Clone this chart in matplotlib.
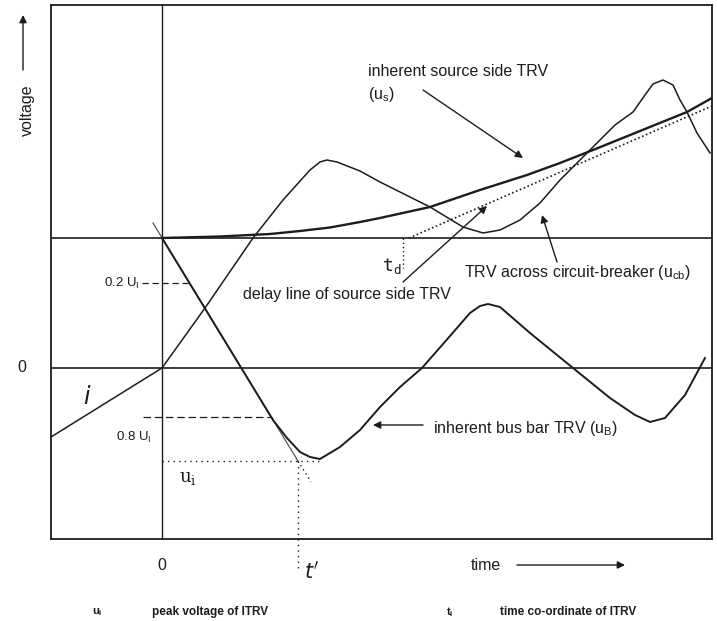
import matplotlib.pyplot as plt

plt.rcParams['font.family'] = ['Liberation Sans', 'DejaVu Sans']
plt.rcParams['mathtext.default'] = 'regular'

# Readings from the sketch (time and voltage in arbitrary units)
current_t = [-11.1, 0]
current_v = [-6.9, 0]

source_t = [0, 5.8, 10.8, 13.8, 16.8, 19.8, 21.8, 26.8, 31.8, 36.5, 39.8, 43.1, 47.8, 52.5, 55.0]
source_v = [13.0, 13.15, 13.4, 13.7, 14.05, 14.6, 15.0, 16.1, 17.8, 19.3, 20.5, 21.8, 23.7, 25.6, 27.0]

delay_t = [24.7, 55.0]
delay_v = [13.0, 26.2]

cb_t = [0, 4.3, 9.1, 12.1, 14.8, 15.8, 16.5, 17.5, 19.8, 21.8, 23.8, 26.8, 30.1, 32.1, 33.8, 35.8,
        37.8, 39.8, 42.8, 45.3, 47.1, 48.3, 49.1, 50.1, 51.1, 51.8, 52.5, 53.5, 54.8]
cb_v = [0, 6.0, 13.0, 16.8, 19.8, 20.6, 20.8, 20.6, 19.7, 18.6, 17.6, 16.1, 14.1, 13.5, 13.8, 14.8,
        16.5, 18.8, 21.8, 24.3, 25.6, 27.3, 28.4, 28.8, 28.3, 26.8, 25.6, 23.5, 21.5]

bus_t = [0, 11.1, 12.5, 13.8, 14.8, 15.8, 17.8, 19.8, 21.8, 23.8, 26.0, 28.8, 30.8, 31.8, 32.6,
         33.8, 36.8, 41.1, 44.8, 47.3, 48.8, 50.3, 52.3, 54.3]
bus_v = [13.0, -5.2, -7.0, -8.4, -8.9, -9.1, -7.9, -6.2, -3.9, -1.9, 0, 3.2, 5.5, 6.2, 6.4,
         6.1, 3.5, 0, -3.0, -4.7, -5.4, -5.0, -2.7, 1.0]

tangent_t = [-0.9, 13.6]
tangent_v = [14.5, -9.3]
tangent_ext_t = [13.6, 14.9]
tangent_ext_v = [-9.3, -11.4]

u_start = 13.0      # voltage level where TRV starts
u_peak = -9.3       # ITRV peak u_i
t_peak = 13.6       # ITRV time t'
t_delay = 24.1      # t_d
level_02 = 8.5
level_08 = -4.9

ink = '#1c1c1c'
fs = 11.5

fig = plt.figure(figsize=(7.17, 6.21), dpi=100)
ax = fig.add_axes([51 / 717, 82 / 621, 661 / 717, 534 / 621])
ax.set_xlim(-11.1, 55.0)
ax.set_ylim(-17.1, 36.3)
ax.set_xticks([])
ax.set_yticks([])
for sp in ax.spines.values():
    sp.set_color(ink)
    sp.set_linewidth(1.3)

# reference lines
ax.axhline(0, color=ink, lw=1.2)
ax.axhline(u_start, color=ink, lw=1.2)
ax.axvline(0, color=ink, lw=1.0)

# curves
ax.plot(current_t, current_v, color=ink, lw=1.1)
ax.plot(source_t, source_v, color=ink, lw=1.7)
ax.plot(delay_t, delay_v, color=ink, lw=1.2, linestyle=(0, (1, 1.5)))
ax.plot(cb_t, cb_v, color=ink, lw=1.1)
ax.plot(tangent_t, tangent_v, color='#555555', lw=0.9)
ax.plot(bus_t, bus_v, color=ink, lw=1.4)
ax.plot(tangent_ext_t, tangent_ext_v, color=ink, lw=1.0, linestyle=(0, (1, 2.5)))

# construction lines
ax.plot([0, 15.8], [u_peak, u_peak], color=ink, lw=1.0, linestyle=(0, (1, 3)))
ax.plot([t_peak, t_peak], [u_peak, -20.0], color=ink, lw=1.0, linestyle=(0, (1, 3)), clip_on=False)
ax.plot([t_delay, t_delay], [u_start, 10.0], color=ink, lw=1.0, linestyle=(0, (1, 2)))
ax.plot([-2.0, 2.7], [level_02, level_02], color=ink, lw=0.9, linestyle=(0, (5, 3)))
ax.plot([-1.9, 11.0], [level_08, level_08], color=ink, lw=0.9, linestyle=(0, (6, 3)))

arrow = dict(arrowstyle='-|>', color=ink, lw=1.0, mutation_scale=11, shrinkA=0, shrinkB=0)

# annotations
ax.text(20.6, 29.6, 'inherent source side TRV', fontsize=fs, va='center', color=ink)
ax.text(20.6, 27.4, '(u$_s$)', fontsize=fs, va='center', color=ink)
ax.annotate('', xy=(36.1, 21.0), xytext=(26.1, 27.8), arrowprops=arrow)

ax.text(8.1, 7.4, 'delay line of source side TRV', fontsize=fs, va='center', color=ink)
ax.annotate('', xy=(32.5, 16.2), xytext=(24.1, 8.6), arrowprops=arrow)

ax.text(30.2, 9.6, 'TRV across circuit-breaker (u$_{cb}$)', fontsize=fs, va='center', color=ink)
ax.annotate('', xy=(38.0, 15.3), xytext=(39.5, 10.6), arrowprops=arrow)

ax.text(27.1, -6.0, 'inherent bus bar TRV (u$_B$)', fontsize=fs, va='center', color=ink)
ax.annotate('', xy=(21.1, -5.7), xytext=(26.1, -5.7), arrowprops=arrow)

ax.text(-2.2, level_02, '0.2 U$_I$', fontsize=9.5, ha='right', va='center', color=ink)
ax.text(-1.0, -6.9, '0.8 U$_I$', fontsize=9.5, ha='right', va='center', color=ink)

ax.text(-7.5, -2.9, '$\\mathit{i}$', fontsize=17, ha='center', va='center', color=ink)
ax.text(2.6, -11.0, '$u_i$', fontsize=13, ha='center', va='center', color=ink,
        family='DejaVu Serif')
ax.text(23.0, 10.2, '$t_d$', fontsize=13, ha='center', va='center', color=ink,
        family='DejaVu Sans Mono')

# outside-axes labels
ax.text(-14.0, 0, '0', fontsize=fs, ha='center', va='center', color=ink, clip_on=False)
ax.text(0, -19.7, '0', fontsize=fs, ha='center', va='center', color=ink, clip_on=False)
ax.text(15.0, -20.3, "$\\mathit{t'}$", fontsize=15, ha='center', va='center', color=ink,
        clip_on=False)
ax.text(-13.5, 25.8, 'voltage', fontsize=fs, rotation=90, ha='center', va='center',
        color=ink, clip_on=False)
ax.annotate('', xy=(-13.9, 35.3), xytext=(-13.9, 29.8), arrowprops=arrow, annotation_clip=False)
ax.text(32.4, -19.7, 'time', fontsize=fs, ha='center', va='center', color=ink, clip_on=False)
ax.annotate('', xy=(46.3, -19.7), xytext=(35.5, -19.7), arrowprops=arrow, annotation_clip=False)

ax.text(-6.5, -24.4, 'u$_i$', fontsize=8, fontweight='bold', ha='center', va='center',
        color=ink, clip_on=False)
ax.text(-1.0, -24.4, 'peak voltage of ITRV', fontsize=8.5, fontweight='bold', va='center',
        color=ink, clip_on=False)
ax.text(28.8, -24.4, 't$_i$', fontsize=8, fontweight='bold', ha='center', va='center',
        color=ink, clip_on=False)
ax.text(33.8, -24.4, 'time co-ordinate of ITRV', fontsize=8.5, fontweight='bold', va='center',
        color=ink, clip_on=False)

fig.savefig('out.png', dpi=100)
